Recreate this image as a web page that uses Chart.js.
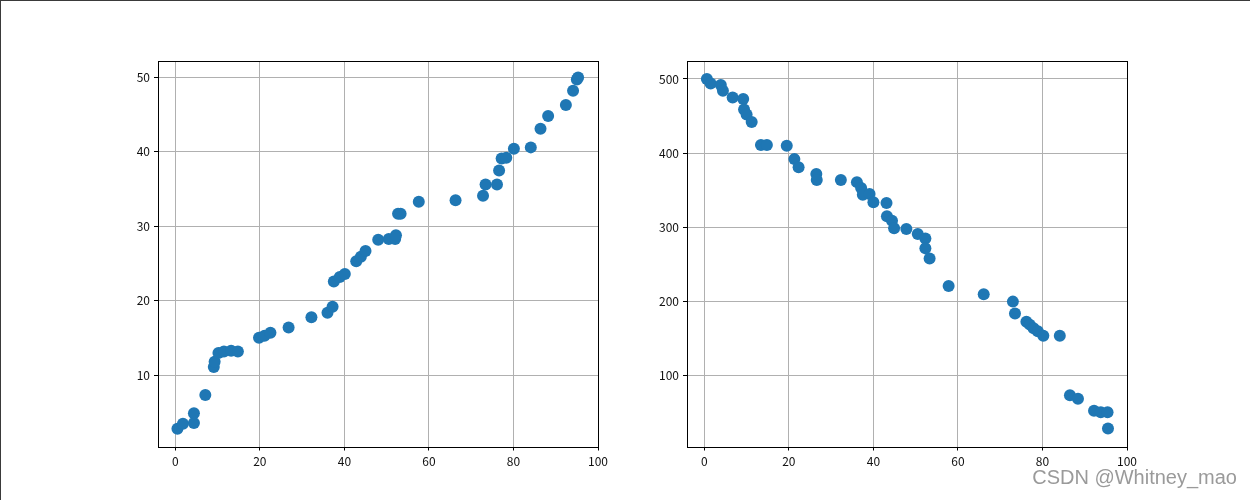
<!DOCTYPE html>
<html>
<head>
<meta charset="utf-8">
<script src="https://cdn.jsdelivr.net/npm/chart.js@4.4.0/dist/chart.umd.min.js"></script>
<style>
  html, body { margin: 0; padding: 0; background: #fff; }
  #wrap { position: relative; width: 1250px; height: 500px; overflow: hidden; }
  #wrap canvas { position: absolute; top: 0; }
  #frame { position: absolute; left: 0; top: 0; width: 1250px; height: 500px;
           border-top: 1px solid #3a3a3a; border-left: 1px solid #3a3a3a; box-sizing: border-box; pointer-events: none; }
  #mark { position: absolute; right: 13px; top: 466px; font: 20px "Liberation Sans", Arial, sans-serif; color: #9a9a9a; }
</style>
</head>
<body>
<div id="wrap">
  <canvas id="left" width="625" height="500" style="left:0"></canvas>
  <canvas id="right" width="625" height="500" style="left:625px"></canvas>
  <div id="frame"></div>
  <div id="mark">CSDN @Whitney_mao</div>
</div>
<script>
// left plot: rising
var leftX = [0.5, 1.8, 4.4, 4.4, 7.1, 9.1, 9.3, 10.2, 11.5, 13.2, 14.8, 19.8, 21.1, 22.5, 26.8, 32.2,
  36.0, 37.2, 37.5, 38.9, 40.1, 42.8, 43.9, 45.0, 48.0, 50.5, 52.0, 52.2, 52.7, 53.3, 57.6, 66.3,
  72.8, 73.4, 76.1, 76.6, 77.2, 78.3, 80.1, 84.1, 86.4, 88.2, 92.4, 94.1, 95.0, 95.3];
var leftY = [2.8, 3.5, 3.6, 4.9, 7.35, 11.1, 11.8, 13.0, 13.2, 13.3, 13.2, 15.05, 15.3, 15.7, 16.4, 17.8,
  18.4, 19.2, 22.6, 23.2, 23.6, 25.3, 25.9, 26.7, 28.2, 28.3, 28.3, 28.8, 31.7, 31.7, 33.3, 33.5,
  34.1, 35.6, 35.6, 37.5, 39.1, 39.2, 40.4, 40.6, 43.1, 44.8, 46.3, 48.2, 49.7, 50.0];

// right plot: falling
var rightX = [0.6, 1.5, 3.9, 4.4, 6.7, 9.2, 9.4, 10.0, 11.2, 13.4, 14.8, 19.5, 21.3, 22.3, 26.5, 26.6,
  32.3, 36.1, 37.1, 37.5, 39.1, 40.0, 43.1, 43.2, 44.4, 44.9, 47.8, 50.5, 52.3, 52.3, 53.3, 57.8,
  66.1, 73.0, 73.5, 76.2, 77.0, 77.9, 78.9, 80.2, 84.1, 86.5, 88.4, 92.2, 93.8, 95.4, 95.5];
var rightY = [500, 494, 492, 484, 475, 473, 459, 452, 442, 411, 411, 410, 392, 381, 372, 364,
  364, 361, 353, 344, 345, 334, 333, 315, 309, 299, 298, 291, 285, 272, 258, 221,
  210, 200, 184, 173, 169, 164, 160, 154, 154, 74, 69, 53, 51, 51, 29];

var xTicks = [0, 20, 40, 60, 80, 100];
var leftTicks = [10, 20, 30, 40, 50];
var rightTicks = [100, 200, 300, 400, 500];

var boxPlugin = {
  id: 'box',
  afterDraw: function (chart) {
    var a = chart.chartArea, ctx = chart.ctx;
    ctx.save();
    ctx.strokeStyle = '#000';
    ctx.lineWidth = 1;
    ctx.strokeRect(Math.round(a.left) + 0.5, Math.round(a.top) + 0.5, Math.round(a.right - a.left), Math.round(a.bottom - a.top));
    ctx.restore();
  }
};

function makeScatter(id, xs, ys, yMin, yMax, yTicks, pad) {
  var pts = xs.map(function (x, i) { return { x: x, y: ys[i] }; });
  var tickFont = { family: '"Noto Sans CJK SC", "DejaVu Sans", sans-serif', size: 12 };
  return new Chart(document.getElementById(id), {
    type: 'scatter',
    data: {
      datasets: [{
        data: pts,
        backgroundColor: '#1f77b4',
        borderWidth: 0,
        pointRadius: 6,
        pointHoverRadius: 6
      }]
    },
    plugins: [boxPlugin],
    options: {
      responsive: false,
      animation: false,
      layout: { padding: pad },
      plugins: { legend: { display: false }, tooltip: { enabled: false } },
      scales: {
        x: {
          type: 'linear',
          min: -4.1, max: 100,
          afterBuildTicks: function (s) { s.ticks = xTicks.map(function (v) { return { value: v }; }); },
          afterFit: function (s) { s.height = 30; },
          grid: { color: '#b0b0b0', lineWidth: 1, tickColor: '#000', tickLength: 4 },
          border: { display: false },
          ticks: { color: '#111', font: tickFont, padding: 4, maxRotation: 0 }
        },
        y: {
          type: 'linear',
          min: yMin, max: yMax,
          afterBuildTicks: function (s) { s.ticks = yTicks.map(function (v) { return { value: v }; }); },
          afterFit: function (s) { s.width = 40; },
          grid: { color: '#b0b0b0', lineWidth: 1, tickColor: '#000', tickLength: 4 },
          border: { display: false },
          ticks: { color: '#111', font: tickFont, padding: 4 }
        }
      }
    }
  });
}

makeScatter('left', leftX, leftY, 0.43, 52.2, leftTicks, { left: 118, right: 27, top: 61, bottom: 23.5 });
makeScatter('right', rightX, rightY, 4.8, 524.2, rightTicks, { left: 22, right: 123, top: 61, bottom: 23.5 });
</script>
</body>
</html>
